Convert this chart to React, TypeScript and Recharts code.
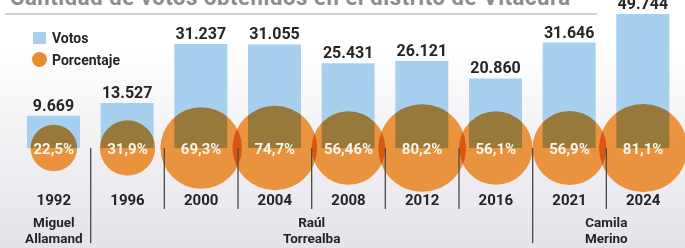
import { ComposedChart, Bar, Scatter, XAxis, YAxis, ZAxis, LabelList, Legend } from 'recharts';

const years = ['1992', '1996', '2000', '2004', '2008', '2012', '2016', '2021', '2024'];
const votes = [9669, 13527, 31237, 31055, 25431, 26121, 20860, 31646, 49744];
const percents = [22.5, 31.9, 69.3, 74.7, 56.46, 80.2, 56.1, 56.9, 81.1];
const mayors = [
  { lines: ['Miguel', 'Allamand'], from: 0, span: 1 },
  { lines: ['Raúl', 'Torrealba'], from: 1, span: 6 },
  { lines: ['Camila', 'Merino'], from: 7, span: 2 },
];

const data = years.map((year, i) => ({ year, votos: votes[i], pct: percents[i], base: 0 }));

const W = 685;
const H = 248;
const PLOT_TOP = 14;
const PLOT_BOTTOM = 148;
const LEFT = 17;
const RIGHT = 5;
const BAND = (W - LEFT - RIGHT) / years.length;

const BLUE = '#a6d0ee';
const ORANGE = '#ea8c30';
const INK = '#252525';
const FONT = 'Roboto, "Noto Sans", sans-serif';

const fmtVotes = (v: number) => String(v).replace(/\B(?=(\d{3})+(?!\d))/g, '.');
const fmtPct = (v: number) => String(v).replace('.', ',') + '%';

const VoteLabel = (props: any) => {
  const { x, y, width, value } = props;
  const top = Math.max(Number(y), PLOT_TOP);
  return (
    <text x={Number(x) + Number(width) / 2} y={top - 5} textAnchor="middle" fill={INK}
      fontFamily={FONT} fontWeight={700} fontSize={16}>
      {fmtVotes(Number(value))}
    </text>
  );
};

const PctLabel = (props: any) => {
  const vb = props.viewBox && props.viewBox.width != null ? props.viewBox : props;
  const cx = Number(vb.x) + Number(vb.width) / 2;
  const cy = Number(vb.y) + Number(vb.height) / 2;
  return (
    <text x={cx} y={cy} dy={5.5} textAnchor="middle" fill="#fbf5ec"
      fontFamily={FONT} fontWeight={700} fontSize={15}>
      {fmtPct(Number(props.value))}
    </text>
  );
};

const Bubble = (props: any) => {
  const { cx, cy, size, width } = props;
  const r = size ? Math.sqrt(size / Math.PI) : width / 2;
  return <circle cx={cx} cy={cy} r={r} fill={ORANGE} fillOpacity={0.93} style={{ mixBlendMode: 'multiply' }} />;
};

const YearTick = (props: any) => {
  const { x, payload } = props;
  const i = payload?.index ?? props.index;
  const half = payload?.offset || BAND / 2;
  const group = mayors.find((m) => m.from === i);
  const sepX = x - half;
  const gx = x + (group ? (group.span - 1) * half : 0);
  return (
    <g>
      {i > 0 && (
        <line x1={sepX} x2={sepX} y1={PLOT_BOTTOM} y2={group ? 243 : 209} stroke="#4a4a4a" strokeWidth={1.3} />
      )}
      <text x={x} y={205} textAnchor="middle" fill={INK} fontFamily={FONT} fontWeight={700} fontSize={15}>
        {payload.value}
      </text>
      {group && (
        <text x={gx} y={227} textAnchor="middle" fill={INK} fontFamily={FONT} fontWeight={700} fontSize={13.5}>
          {group.lines[0]}
        </text>
      )}
      {group && (
        <text x={gx} y={243} textAnchor="middle" fill={INK} fontFamily={FONT} fontWeight={700} fontSize={13.5}>
          {group.lines[1]}
        </text>
      )}
    </g>
  );
};

const LegendBox = () => (
  <svg width={100} height={42} style={{ overflow: 'visible', display: 'block' }}>
    <rect x={1} y={0} width={13} height={12} fill={BLUE} />
    <text x={20} y={11} fill={INK} fontFamily={FONT} fontWeight={700} fontSize={14}>Votos</text>
    <circle cx={7.5} cy={27.5} r={7.5} fill={ORANGE} />
    <text x={20} y={33} fill={INK} fontFamily={FONT} fontWeight={700} fontSize={14}>Porcentaje</text>
  </svg>
);

export default function App() {
  return (
    <div style={{ position: 'absolute', left: 0, top: 0, width: W, height: H, overflow: 'hidden',
      background: 'linear-gradient(to bottom, #ffffff 0%, #ffffff 18%, #e3e3ea 100%)' }}>
      <div style={{ position: 'absolute', left: 10, top: -15, fontFamily: FONT, fontSize: 22,
        fontWeight: 700, color: '#8c8c8c', whiteSpace: 'nowrap', letterSpacing: 0.6 }}>
        Cantidad de votos obtenidos en el distrito de Vitacura
      </div>
      <div style={{ position: 'absolute', left: 5, top: 13, width: 592, height: 1.5, background: '#d2d2d2' }} />
      <div style={{ position: 'absolute', left: 0, top: 0, isolation: 'isolate' }}>
        <ComposedChart width={W} height={H} data={data}
          margin={{ top: PLOT_TOP, right: RIGHT, bottom: 0, left: LEFT }}>
          <XAxis dataKey="year" type="category" height={H - PLOT_BOTTOM}
            axisLine={false} tickLine={false} tick={YearTick} interval={0} />
          <YAxis yAxisId="v" hide domain={[0, 40200]} allowDataOverflow />
          <YAxis yAxisId="p" hide domain={[0, 1]} />
          <ZAxis dataKey="pct" type="number" domain={[0, 100]} range={[0, 7540]} />
          <Legend layout="vertical" align="center" verticalAlign="middle"
            wrapperStyle={{ left: 32, top: 32, width: 100, height: 42 }} content={LegendBox} />
          <Bar yAxisId="v" dataKey="votos" name="Votos" fill={BLUE} barSize={53} isAnimationActive={false}>
            <LabelList dataKey="votos" content={VoteLabel} />
          </Bar>
          <Scatter yAxisId="p" dataKey="base" name="Porcentaje" fill={ORANGE} shape={Bubble} isAnimationActive={false}>
            <LabelList dataKey="pct" content={PctLabel} />
          </Scatter>
        </ComposedChart>
      </div>
    </div>
  );
}
